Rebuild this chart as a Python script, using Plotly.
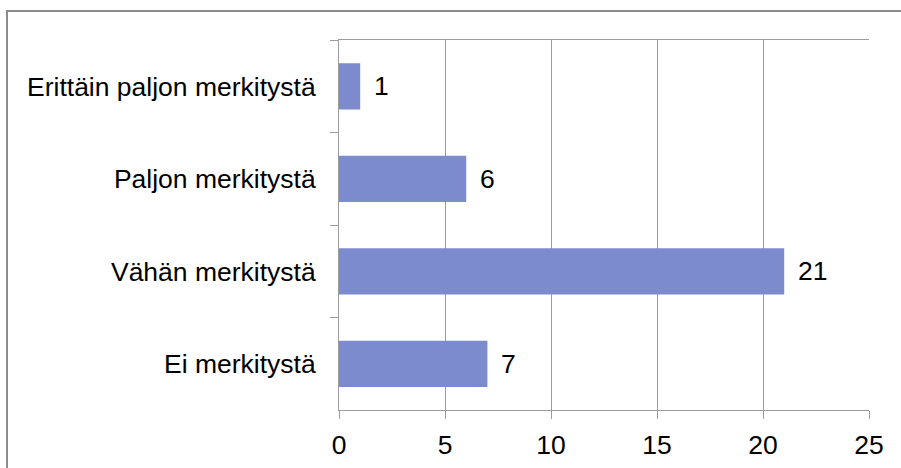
import plotly.graph_objects as go

# Survey responses per category (top to bottom)
categories = [
    "Erittäin paljon merkitystä",
    "Paljon merkitystä",
    "Vähän merkitystä",
    "Ei merkitystä",
]
counts = [1, 6, 21, 7]
x_ticks = [0, 5, 10, 15, 20, 25]

BAR_COLOR = "#7b8bce"
LINE_COLOR = "#9c9c9c"
FONT = dict(family="Liberation Sans, Arial, sans-serif", size=26.5, color="#000000")

fig = go.Figure(
    go.Bar(
        x=counts,
        y=categories,
        orientation="h",
        marker=dict(color=BAR_COLOR, line=dict(width=0)),
        hoverinfo="skip",
    )
)

# Value labels just beyond each bar end
for cat, val in zip(categories, counts):
    fig.add_annotation(
        x=val, y=cat, text=str(val),
        xanchor="left", yanchor="middle", xshift=12,
        showarrow=False, font=FONT,
    )

# Outer chart frame
fig.add_shape(
    type="rect", xref="paper", yref="paper",
    x0=(7 - 339) / 530, x1=(910 - 339) / 530,
    y0=(410 - 480) / 370, y1=(410 - 11) / 370,
    line=dict(color="#8c8c8c", width=2), fillcolor="rgba(0,0,0,0)",
    layer="below",
)

fig.update_layout(
    width=901, height=468,
    margin=dict(l=339, r=32, t=40, b=58, autoexpand=False),
    paper_bgcolor="white", plot_bgcolor="white",
    bargap=0.5,
    showlegend=False,
    font=FONT,
    xaxis=dict(
        range=[0, 25],
        tickvals=x_ticks,
        ticktext=[str(v) for v in x_ticks],
        showgrid=True, gridcolor=LINE_COLOR, gridwidth=1,
        showline=True, linecolor=LINE_COLOR, linewidth=1, mirror=True,
        ticks="outside", ticklen=8, tickcolor=LINE_COLOR, tickwidth=1,
        ticklabelstandoff=3,
        zeroline=False,
        automargin=False,
        fixedrange=True,
    ),
    yaxis=dict(
        type="category",
        categoryorder="array", categoryarray=categories,
        range=[3.5, -0.5],
        tickson="boundaries",
        showgrid=False,
        showline=True, linecolor=LINE_COLOR, linewidth=1,
        ticks="outside", ticklen=8, tickcolor=LINE_COLOR, tickwidth=1,
        ticklabelstandoff=17,
        zeroline=False,
        automargin=False,
        fixedrange=True,
    ),
)

fig.write_html("out.html")
